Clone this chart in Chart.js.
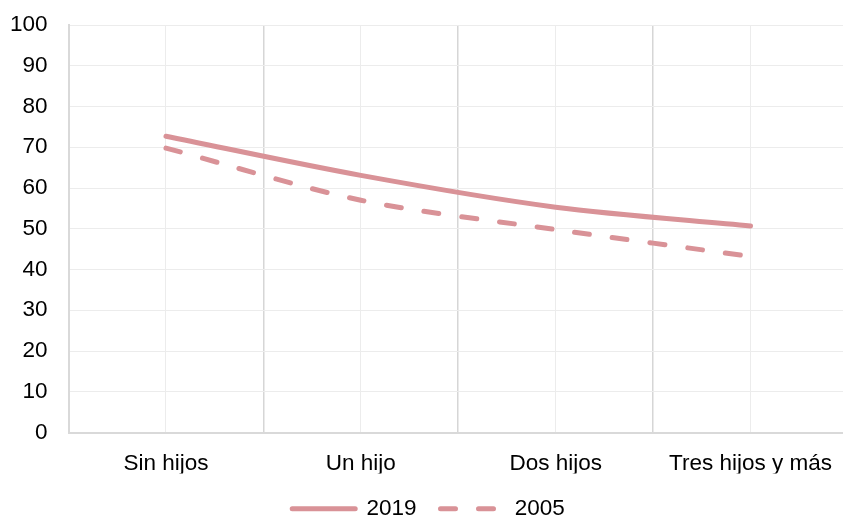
<!DOCTYPE html>
<html>
<head>
<meta charset="utf-8">
<script src="https://cdn.jsdelivr.net/npm/chart.js@4.4.1/dist/chart.umd.min.js"></script>
<style>
    html, body { margin: 0; padding: 0; background: #fff; overflow: hidden; }
    #wrap { width: 850px; height: 518px; }
</style>
</head>
<body>
<div id="wrap"><canvas id="chart"></canvas></div>
<script>
const categories = ['Sin hijos', 'Un hijo', 'Dos hijos', 'Tres hijos y más'];
const values2019 = [72.7, 63.1, 55.3, 50.7];
const values2005 = [69.8, 57.0, 49.8, 43.2];
const yTicks = [0, 10, 20, 30, 40, 50, 60, 70, 80, 90, 100];

const lineColor = '#d99297';
const font = { family: "'Liberation Sans', Arial, sans-serif", size: 22.5 };

const ctx = document.getElementById('chart').getContext('2d');

new Chart(ctx, {
    type: 'line',
    data: {
        labels: categories,
        datasets: [
            {
                label: '2019',
                data: values2019,
                borderColor: lineColor,
                backgroundColor: lineColor,
                borderWidth: 5,
                pointRadius: 0,
                tension: 0.3,
                borderCapStyle: 'round',
            },
            {
                label: '2005',
                data: values2005,
                borderColor: lineColor,
                backgroundColor: lineColor,
                borderWidth: 5,
                borderDash: [15, 23],
                pointRadius: 0,
                tension: 0.3,
                borderCapStyle: 'round',
            },
        ],
    },
    options: {
        responsive: true,
        maintainAspectRatio: false,
        animation: false,
        layout: { padding: { top: 25, left: 7, right: 0, bottom: -12 } },
        plugins: {
            tooltip: { enabled: false },
            legend: {
                position: 'bottom',
                labels: {
                    usePointStyle: true,
                    pointStyle: 'line',
                    pointStyleWidth: 63,
                    color: '#000',
                    font: font,
                    padding: 24,
                    // point style legend drops the dash, put it back from the dataset
                    generateLabels: (chart) => {
                        const items = Chart.defaults.plugins.legend.labels.generateLabels(chart);
                        items.forEach(item => {
                            const ds = chart.data.datasets[item.datasetIndex];
                            item.lineDash = ds.borderDash || [];
                            item.lineCap = 'round';
                            item.lineWidth = 5;
                            item.strokeStyle = ds.borderColor;
                        });
                        return items;
                    },
                },
            },
        },
        scales: {
            x: {
                type: 'category',
                offset: true,
                grid: { offset: false, color: '#ececec', drawTicks: false },
                border: { color: '#d9d9d9', width: 2 },
                ticks: { color: '#000', font: font, padding: 18, maxRotation: 0 },
                afterFit: (axis) => { axis.height -= 22; },
            },
            // boundaries between categories
            x2: {
                type: 'category',
                labels: categories,
                position: 'bottom',
                offset: true,
                grid: { offset: true, color: '#d6d6d6', lineWidth: 1.5, drawTicks: false },
                border: { display: false },
                ticks: { display: false },
            },
            y: {
                min: 0,
                max: 100,
                afterBuildTicks: (axis) => { axis.ticks = yTicks.map(v => ({ value: v })); },
                grid: { color: '#ececec', drawTicks: true, tickLength: 18, tickColor: 'rgba(0,0,0,0)' },
                border: { color: '#d9d9d9', width: 2 },
                ticks: { color: '#000', font: font, padding: 3 },
            },
        },
    },
});
</script>
</body>
</html>
